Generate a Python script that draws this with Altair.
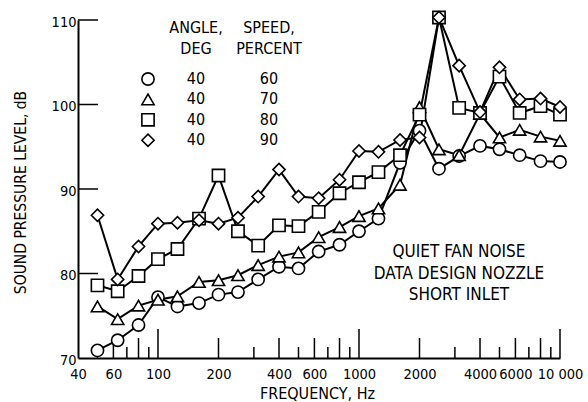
import math
import altair as alt
import pandas as pd

# ---------------- data ----------------
FREQS = [50, 63, 80, 100, 125, 160, 200, 250, 315, 400, 500, 630, 800, 1000,
         1250, 1600, 2000, 2500, 3150, 4000, 5000, 6300, 8000, 10000]
SPL_60 = [70.9, 72.1, 73.9, 77.2, 76.1, 76.5, 77.5, 77.8, 79.3, 80.8, 80.6, 82.6,
          83.4, 85.0, 86.5, 93.1, 96.9, 92.4, 93.9, 95.1, 94.7, 94.0, 93.3, 93.2]
SPL_70 = [76.1, 74.6, 76.2, 76.9, 77.3, 79.0, 79.2, 79.8, 81.0, 82.0, 82.5, 84.3,
          85.5, 86.8, 87.7, 90.5, 99.7, 94.7, 94.0, 98.9, 96.1, 97.0, 96.2, 95.7]
SPL_80 = [78.6, 77.9, 79.7, 81.7, 82.9, 86.5, 91.6, 85.0, 83.3, 85.7, 85.6, 87.3,
          89.5, 90.8, 92.0, 94.0, 98.8, 110.3, 99.6, 99.0, 103.3, 99.0, 99.8, 98.8]
SPL_90 = [86.9, 79.3, 83.2, 85.9, 86.0, 86.3, 85.9, 86.6, 89.1, 92.3, 89.1, 88.9,
          91.1, 94.5, 94.4, 95.8, 96.1, 110.3, 104.6, 99.1, 104.4, 100.6, 100.7, 99.7]
SERIES = [SPL_60, SPL_70, SPL_80, SPL_90]
ANGLES = [40, 40, 40, 40]
SPEEDS = [60, 70, 80, 90]
SHAPES = ["circle", "triangle-up", "square", "diamond"]
LEGEND_HEADERS = [["ANGLE,", "DEG"], ["SPEED,", "PERCENT"]]
ANNOTATION = ["QUIET FAN NOISE", "DATA DESIGN NOZZLE", "SHORT INLET"]
X_LABELS = [40, 60, 100, 200, 400, 600, 1000, 2000, 4000, 6000, 10000]
Y_LABELS = [70, 80, 90, 100, 110]
Y_INNER_TICKS = [80, 90, 100, 110]
X_INNER_TICKS = [50, 60, 70, 80, 90, 100, 200, 300, 400, 500, 600, 700, 800, 900,
                 1000, 2000, 3000, 4000, 5000, 6000, 7000, 8000, 9000, 10000]
X_TITLE = "FREQUENCY, Hz"
Y_TITLE = "SOUND PRESSURE LEVEL, dB"

# ---------------- layout ----------------
W, H = 482, 338
FONT = "Liberation Sans Narrow, DejaVu Sans Condensed, sans-serif"

rows = []
for spd, shp, vals in zip(SPEEDS, SHAPES, SERIES):
    for f, v in zip(FREQS, vals):
        rows.append({"freq": f, "spl": v, "speed": spd, "shape": shp})
df = pd.DataFrame(rows)

xs = alt.Scale(type="log", domain=[40, 10000], nice=False)
ys = alt.Scale(domain=[70, 110], nice=False, zero=False)

x_axis = alt.Axis(
    values=X_LABELS, ticks=False, tickSize=0, grid=False, domain=True,
    domainColor="black", domainWidth=2, labelFont=FONT, labelFontSize=14.5,
    labelColor="black", labelPadding=20, labelBaseline="alphabetic",
    labelFlush=False, labelOverlap=False,
    labelExpr="datum.value == 10000 ? '10 000' : format(datum.value, 'd')",
    title=X_TITLE, titleFont=FONT, titleFontSize=16, titleFontWeight="normal",
    titleColor="black", titleX=W / 2 - 2, titleY=40, titleBaseline="alphabetic",
)
y_axis = alt.Axis(
    values=Y_LABELS, ticks=False, tickSize=0, grid=False, domain=True,
    domainColor="black", domainWidth=2, labelFont=FONT, labelFontSize=14.5,
    labelColor="black", labelPadding=2, labelFlush=False, labelOverlap=False,
    labelOffset=2,
    title=Y_TITLE, titleFont=FONT, titleFontSize=15.5, titleFontWeight="normal",
    titleColor="black", titleX=-58, titleY=H / 2 + 3, titleBaseline="middle",
    titleAngle=270,
)

X = alt.X("freq:Q", scale=xs, axis=x_axis)
Y = alt.Y("spl:Q", scale=ys, axis=y_axis)

lines = alt.Chart(df).mark_line(color="black", strokeWidth=2).encode(
    x=X, y=Y, detail="speed:N"
)
points = alt.Chart(df).mark_point(
    filled=True, fill="white", stroke="black", strokeWidth=1.6, opacity=1, size=150
).encode(
    x=alt.X("freq:Q", scale=xs), y=alt.Y("spl:Q", scale=ys),
    shape=alt.Shape("shape:N", scale=None),
)

# tick marks drawn inward from the axes
def tick_len(f):
    m = round(f / 10 ** math.floor(math.log10(f)))
    if m == 1:
        return 29
    return 20 if m % 2 == 0 else 11

tick_layers = []
for L in sorted({tick_len(f) for f in X_INNER_TICKS}):
    tdf = pd.DataFrame({"freq": [f for f in X_INNER_TICKS if tick_len(f) == L]})
    tick_layers.append(
        alt.Chart(tdf).mark_rule(color="black", strokeWidth=1.5).encode(
            x=alt.X("freq:Q", scale=xs), y=alt.value(H), y2=alt.value(H - L)
        )
    )
ytdf = pd.DataFrame({"spl": Y_INNER_TICKS})
tick_layers.append(
    alt.Chart(ytdf).mark_rule(color="black", strokeWidth=1.5).encode(
        y=alt.Y("spl:Q", scale=ys), x=alt.value(0), x2=alt.value(20)
    )
)

# custom legend
one = pd.DataFrame({"k": [0]})
LEG_SYM_X, LEG_COL1_X, LEG_COL2_X = 70, 118, 191
LEG_Y0, LEG_DY = 59, 20.4
legend_layers = []
for cx, head in zip([LEG_COL1_X, LEG_COL2_X], LEGEND_HEADERS):
    legend_layers.append(
        alt.Chart(one).mark_text(
            text=head, font=FONT, fontSize=16, color="black", align="center",
            baseline="alphabetic", lineHeight=21,
        ).encode(x=alt.value(cx), y=alt.value(13))
    )
for i, (a, s, shp) in enumerate(zip(ANGLES, SPEEDS, SHAPES)):
    yy = LEG_Y0 + i * LEG_DY
    legend_layers.append(
        alt.Chart(one).mark_point(
            filled=True, fill="white", stroke="black", strokeWidth=1.6,
            opacity=1, size=150, shape=shp,
        ).encode(x=alt.value(LEG_SYM_X), y=alt.value(yy))
    )
    for cx, txt in [(LEG_COL1_X, str(a)), (LEG_COL2_X, str(s))]:
        legend_layers.append(
            alt.Chart(one).mark_text(
                text=txt, font=FONT, fontSize=16, color="black", align="center",
                baseline="middle",
            ).encode(x=alt.value(cx), y=alt.value(yy))
        )

annotation = alt.Chart(one).mark_text(
    text=ANNOTATION, font=FONT, fontSize=17, color="black", align="center",
    baseline="alphabetic", lineHeight=21.5,
).encode(x=alt.value(381), y=alt.value(237))

chart = alt.layer(
    lines, *tick_layers, points, *legend_layers, annotation
).properties(
    width=W, height=H, autosize="none",
    padding={"left": 78, "top": 20, "right": 28, "bottom": 44},
    background="white",
).configure_view(stroke=None)

chart.save("out.html", embed_options={"renderer": "svg", "actions": False})
